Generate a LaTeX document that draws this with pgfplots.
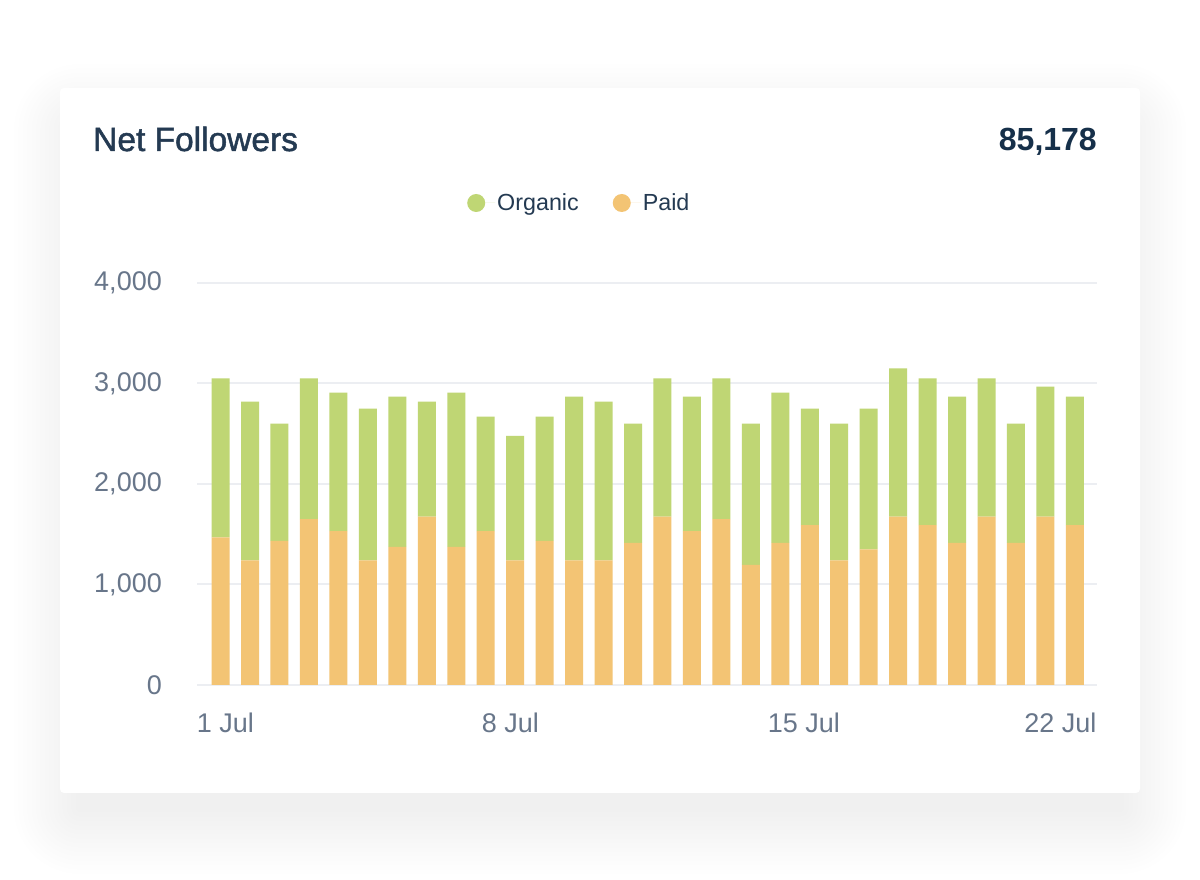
\documentclass[border=0pt]{standalone}
\usepackage{fontspec}
\setmainfont{Liberation Sans}
\newfontface\titlefont{Liberation Sans}[FakeBold=1.5]
\usepackage{pgfplots}
\pgfplotsset{compat=1.18}
\definecolor{organic}{HTML}{BFD674}
\definecolor{paid}{HTML}{F3C474}
\definecolor{titlec}{HTML}{243A52}
\definecolor{totalc}{HTML}{16304A}
\definecolor{tickc}{HTML}{68768A}
\definecolor{gridc}{HTML}{ECEEF2}
\begin{document}
\begin{tikzpicture}[x=1pt,y=1pt]
\fill[white] (0,0) rectangle (1200,880);
\foreach \i in {1,...,15} {
  \fill[black,opacity=0.005,rounded corners={4.4*\i pt}] ({80-4.4*\i},{72-4.4*\i}) rectangle ({1120+4.4*\i},{750+4.4*\i});
}
\fill[white,rounded corners=4pt] (60,87) rectangle (1140,792);
\node[anchor=base west, inner sep=0pt, font=\titlefont\fontsize{33.5}{40}\selectfont, text=titlec] at (93,729) {Net Followers};
\node[anchor=base east, inner sep=0pt, font=\fontsize{32}{38}\selectfont\bfseries, text=totalc] at (1097,729) {85,178};
\begin{axis}[
  at={(197pt,195pt)}, anchor=south west,
  scale only axis, width=900pt, height=402pt,
  xmin=-0.8, xmax=29.75, ymin=0, ymax=4000,
  ybar stacked, bar width=18pt,
  axis line style={draw=none}, tick style={draw=none},
  major tick length=0pt,
  ymajorgrids, grid style={gridc, line width=2pt},
  ytick={0,1000,2000,3000,4000},
  yticklabels={0,{1,000},{2,000},{3,000},{4,000}},
  xtick={0.167,9.84,19.80,28.51},
  xticklabels={1 Jul,8 Jul,15 Jul,22 Jul},
  tick label style={font=\fontsize{27}{30}\selectfont, text=tickc},
  yticklabel style={anchor=east, inner sep=0pt, xshift=-35pt},
  xticklabel style={anchor=north, inner sep=0pt, yshift=-28pt},
  legend style={at={(0.3,1.199)}, anchor=west, draw=none, fill=none,
    inner sep=0pt, legend columns=-1,
    font=\fontsize{23.3}{27}\selectfont, text=titlec,
    /tikz/every even column/.append style={column sep=32pt}},
  legend image code/.code={\fill[#1] (0pt,0pt) circle (9pt); \path (-9pt,0pt) -- (19pt,0pt);},
  reverse legend,
]
\addplot[fill=paid, draw=none] coordinates {
(0,1470) (1,1240) (2,1435) (3,1650) (4,1530) (5,1240) (6,1375) (7,1675) (8,1375) (9,1530)
(10,1240) (11,1435) (12,1240) (13,1240) (14,1415) (15,1675) (16,1530) (17,1650) (18,1195) (19,1415)
(20,1590) (21,1240) (22,1350) (23,1675) (24,1590) (25,1415) (26,1675) (27,1415) (28,1675) (29,1590)};
\addlegendentry{Paid}
\addplot[fill=organic, draw=none] coordinates {
(0,1580) (1,1580) (2,1165) (3,1400) (4,1380) (5,1510) (6,1495) (7,1145) (8,1535) (9,1140)
(10,1240) (11,1235) (12,1630) (13,1580) (14,1185) (15,1375) (16,1340) (17,1400) (18,1405) (19,1495)
(20,1160) (21,1360) (22,1400) (23,1475) (24,1460) (25,1455) (26,1375) (27,1185) (28,1295) (29,1280)};
\addlegendentry{Organic}
\end{axis}
\end{tikzpicture}
\end{document}
